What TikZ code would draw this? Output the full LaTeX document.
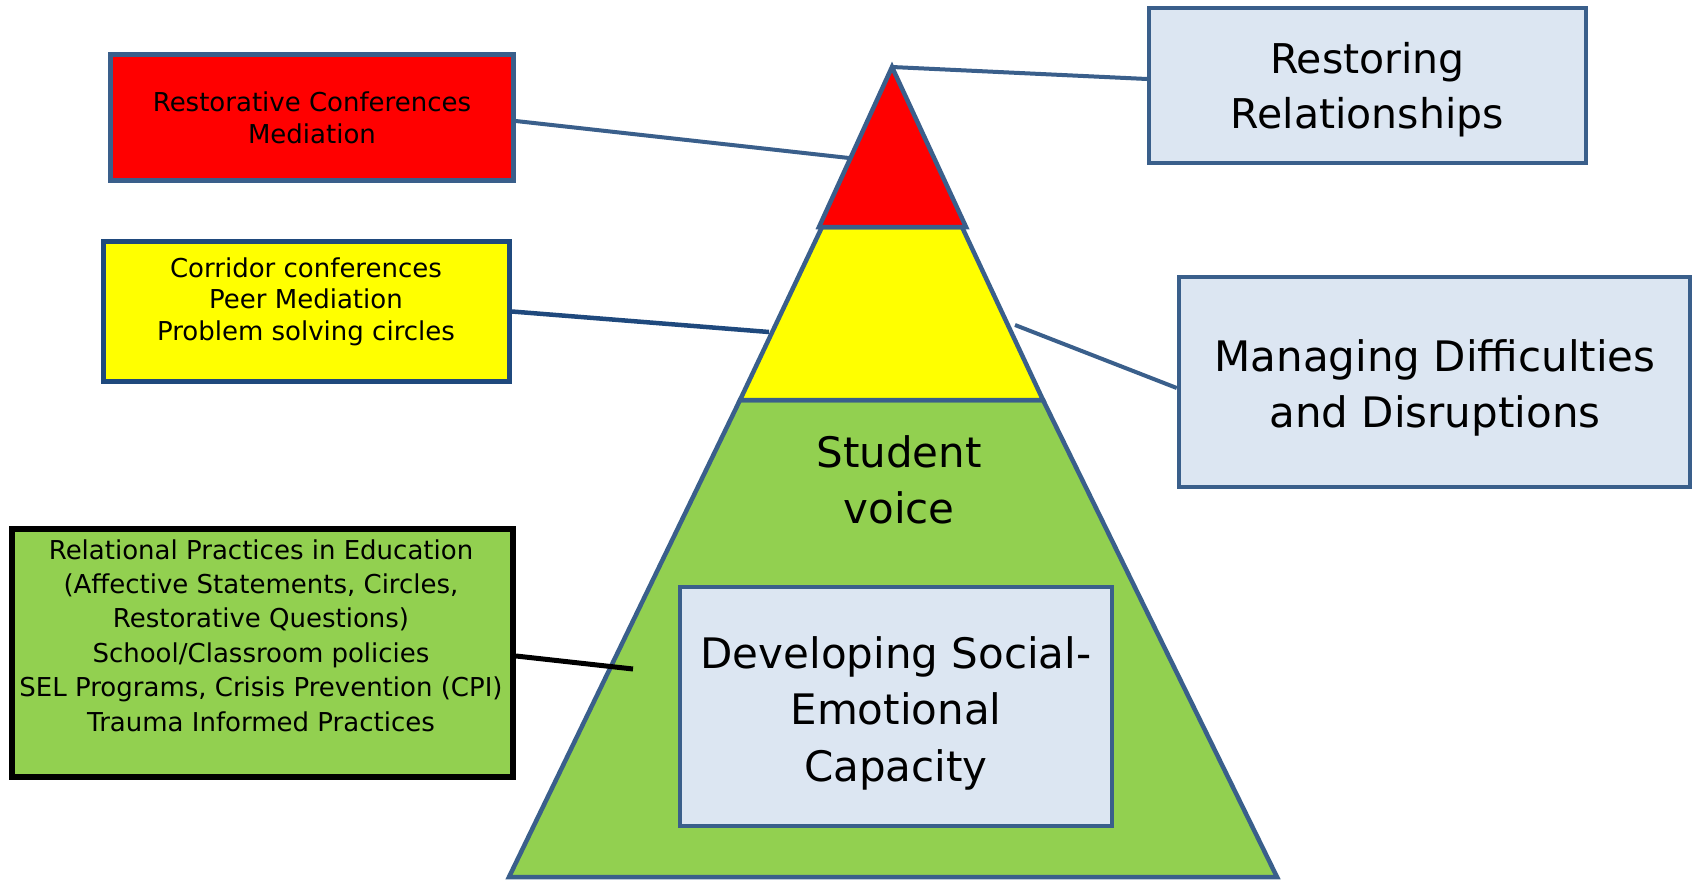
\documentclass[tikz,border=0pt]{standalone}
\usepackage{fontspec}
\setmainfont{DejaVu Sans}
\usetikzlibrary{calc}
\definecolor{edgeblue}{HTML}{3A5F8B}
\definecolor{navyline}{HTML}{1F497D}
\definecolor{paleblue}{HTML}{DCE6F2}
\definecolor{pgreen}{HTML}{92D050}
\definecolor{pyellow}{HTML}{FFFF00}
\definecolor{pred}{HTML}{FF0000}
\begin{document}
\begin{tikzpicture}[x=1pt,y=-1pt,
  tier/.style={draw=edgeblue, line width=4.5pt, line join=miter, miter limit=3},
  box/.style={rectangle, inner sep=0pt, line width=4.5pt},
  bluebox/.style={box, draw=edgeblue, fill=paleblue},
  link/.style={draw=edgeblue, line width=4pt},
  small/.style={font=\fontsize{26}{31.5}\selectfont, align=center, anchor=base, inner sep=0pt},
  big/.style={font=\fontsize{42}{56}\selectfont, align=center, anchor=base, inner sep=0pt}]
\useasboundingbox (0,0) rectangle (1693,881);
\fill[white] (0,0) rectangle (1693,881);

% pyramid tiers
\coordinate (apex) at (892,67);
\filldraw[tier, fill=pgreen] (740,400) -- (1043,400) -- (1277,877) -- (509,877) -- cycle;
\filldraw[tier, fill=pyellow] (822,227) -- (962,227) -- (1043,400) -- (740,400) -- cycle;
\filldraw[tier, fill=pred] (apex) -- (966,227) -- (819,227) -- cycle;

% boxes
\node[box, draw=edgeblue, fill=pred, minimum width=403pt, minimum height=126pt] (redbox) at (312,117.5) {};
\node[box, draw=navyline, fill=pyellow, line width=5pt, minimum width=406pt, minimum height=140pt] (yellowbox) at (306.5,311.5) {};
\node[box, draw=black, fill=pgreen, line width=6pt, minimum width=501pt, minimum height=248pt] (greenbox) at (262.5,653) {};
\node[bluebox, line width=4pt, minimum width=437pt, minimum height=155pt] (restbox) at (1367.5,85.5) {};
\node[bluebox, minimum width=511pt, minimum height=210pt] (managebox) at (1434.5,382) {};
\node[bluebox, minimum width=432pt, minimum height=239pt] (devbox) at (896,706.5) {};

% texts (anchored at the baseline of their last line)
\node[small] (redtext) at (312,143) {Restorative Conferences\\Mediation};
\node[small] (yellowtext) at (306,340) {Corridor conferences\\Peer Mediation\\Problem solving circles};
\node[small, font=\fontsize{26}{34.4}\selectfont] (greentext) at (261,731) {Relational Practices in Education\\(Affective Statements, Circles,\\Restorative Questions)\\School/Classroom policies\\SEL Programs, Crisis Prevention (CPI)\\Trauma Informed Practices};
\node[big, font=\fontsize{41}{55}\selectfont] (resttext) at (1367.5,128) {Restoring\\Relationships};
\node[big] (managetext) at (1435,427) {Managing Difficulties\\and Disruptions};
\node[big] (voicetext) at (899,523) {Student\\voice};
\node[big, font=\fontsize{42}{56.5}\selectfont] (devtext) at (896,781) {Developing Social-\\Emotional\\Capacity};

% connector end points on the pyramid
\coordinate (redend) at (849,158);
\coordinate (yellowend) at (769,332);
\coordinate (rightstart) at (1015,325);
\coordinate (greenend) at (633,669);

% connectors
\draw[link] (apex) -- ([yshift=6.5pt]restbox.west);
\draw[link] ([yshift=-3.5pt]redbox.east) -- (redend);
\draw[link, draw=navyline, line width=4.5pt] (yellowbox.east) -- (yellowend);
\draw[link] (rightstart) -- ([yshift=-6pt]managebox.west);
\draw[line width=5pt, black] ([yshift=-3pt]greenbox.east) -- (greenend);
\end{tikzpicture}
\end{document}
